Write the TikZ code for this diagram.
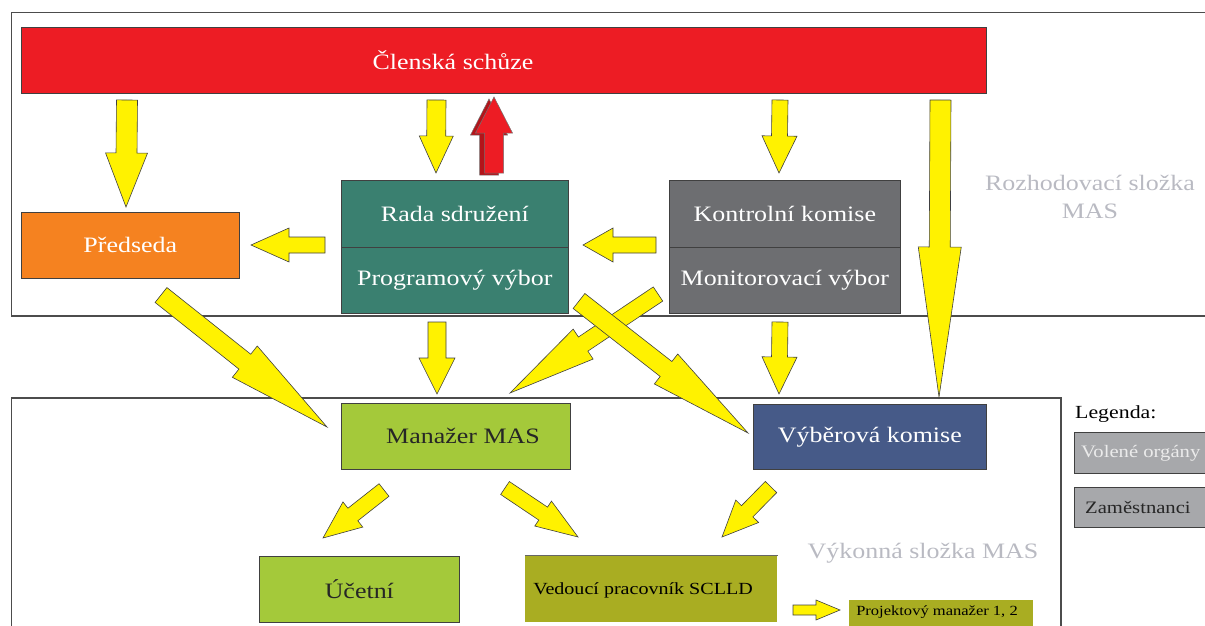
\documentclass[tikz,border=0pt]{standalone}
\usepackage{fontspec}
\setmainfont{Liberation Serif}
\usepackage{graphicx}
\usetikzlibrary{calc}
\definecolor{cred}{HTML}{ED1C24}
\definecolor{cdred}{HTML}{B3141A}
\definecolor{corange}{HTML}{F58220}
\definecolor{cteal}{HTML}{3A8070}
\definecolor{cgray}{HTML}{6D6E71}
\definecolor{cgreen}{HTML}{A4C93A}
\definecolor{cblue}{HTML}{465A88}
\definecolor{colive}{HTML}{A9AD22}
\definecolor{cyellow}{HTML}{FFF200}
\definecolor{clight}{HTML}{B9BAC2}
\definecolor{clegend}{HTML}{A7A8AB}
\newcommand\fsmain{\rmfamily\fontsize{22}{28}\selectfont}
\newcommand\widetxt[1]{\scalebox{1.18}[1]{#1}}
\newcommand\blockarr[6][yarrow]{%
  \coordinate (ba-n) at ($(#3)!#6!(#2)$);
  \path[#1] ($(#2)!#4!90:(#3)$) -- ($(ba-n)!#4!90:(#3)$) -- ($(ba-n)!#5!90:(#3)$) -- (#3)
    -- ($(ba-n)!#5!-90:(#3)$) -- ($(ba-n)!#4!-90:(#3)$) -- ($(#2)!#4!-90:(#3)$) -- cycle;
}
\begin{document}
\begin{tikzpicture}[x=1pt,y=-1pt,
  box/.style={draw=black!75, line width=0.7pt, inner sep=0pt, anchor=north west, font=\fsmain, text=white},
  txt/.style={inner sep=0pt},
  yarrow/.style={fill=cyellow, draw=black!75, line width=0.6pt, line join=miter},
  rarrow/.style={fill=cred, draw=black!55, line width=0.5pt},
  rarrowb/.style={fill=cdred, draw=black!55, line width=0.5pt},
  frame/.style={draw=black!70, line width=1.2pt}]
\useasboundingbox (0,0) rectangle (1205,626);
\clip (0,0) rectangle (1205,626);
% frames
\draw[frame] (11.5,12.5) rectangle (1230,316);
\draw[frame] (11.5,398) rectangle (1061,660);
% boxes
\node[box, fill=cred, minimum width=965, minimum height=66] (clen) at (21,27) {};
\node[txt, font=\fsmain, text=white] (clent) at (453,60) {\widetxt{Členská schůze}};
\node[box, fill=corange, minimum width=218, minimum height=66] (pred) at (21,212) {\widetxt{Předseda}};
\node[box, fill=cteal, minimum width=227, minimum height=67] (rada) at (341,180) {\widetxt{Rada sdružení}};
\node[box, fill=cteal, minimum width=227, minimum height=66] (prog) at (341,247) {\widetxt{Programový výbor}};
\node[box, fill=cgray, minimum width=231, minimum height=67] (kontr) at (669,180) {\widetxt{Kontrolní komise}};
\node[box, fill=cgray, minimum width=231, minimum height=66] (monit) at (669,247) {\widetxt{Monitorovací výbor}};
\node[box, fill=cgreen, minimum width=229, minimum height=66] (man) at (341,403) {};
\node[txt, font=\fsmain, text=black!85] (mant) at (463,436) {\widetxt{Manažer MAS}};
\node[box, fill=cblue, minimum width=233, minimum height=65] (vyb) at (753,404) {\widetxt{Výběrová komise}};
\node[box, fill=cgreen, minimum width=200, minimum height=66, text=black!85] (ucet) at (259,556) {\widetxt{Účetní}};
\node[box, fill=colive, draw=none, minimum width=252, minimum height=67] (ved) at (525,555) {};
\draw[black!60, line width=0.6pt] (ved.north west) -- (ved.north east);
\node[txt, font=\rmfamily\fontsize{17}{20}\selectfont, text=black] (vedt) at (643,590) {\widetxt{Vedoucí pracovník SCLLD}};
\node[box, fill=colive, draw=none, minimum width=184, minimum height=30] (proj) at (849,600) {};
\node[txt, font=\rmfamily\fontsize{14}{17}\selectfont, text=black] (projt) at (937,612) {\widetxt{Projektový manažer 1, 2}};
% section labels
\node[txt, font=\fsmain, text=clight, align=center] (rozh) at (1090,197) {\widetxt{Rozhodovací složka}\\\widetxt{MAS}};
\node[txt, font=\fsmain, text=clight] (vyk) at (923,553) {\widetxt{Výkonná složka MAS}};
% legend
\node[txt, anchor=base west, font=\rmfamily\fontsize{18.5}{22}\selectfont] (leg) at (1075,418) {\widetxt{Legenda:}};
\node[box, fill=clegend, minimum width=160, minimum height=41] (lv) at (1074,432) {};
\node[txt, anchor=west, font=\rmfamily\fontsize{17.5}{20}\selectfont, text=white!92!black] (lvt) at (1081,453) {\widetxt{Volené orgány}};
\node[box, fill=clegend, minimum width=160, minimum height=40] (lz) at (1074,487) {};
\node[txt, anchor=west, font=\rmfamily\fontsize{17.5}{20}\selectfont, text=black!85] (lzt) at (1085,507) {\widetxt{Zaměstnanci}};
% arrow end points
\coordinate (aAs) at (127,100);  \coordinate (aAe) at (126,207);
\coordinate (aBs) at (436.5,100); \coordinate (aBe) at (436,173);
\coordinate (aCs) at (494,173);  \coordinate (aCe) at (494,97);
\coordinate (aCbs) at (489,175); \coordinate (aCbe) at (489,99);
\coordinate (aDs) at (780,100);  \coordinate (aDe) at (779,173);
\coordinate (aEs) at (940.5,100); \coordinate (aEe) at (939,397);
\coordinate (aFs) at (325,245);  \coordinate (aFe) at (251,245);
\coordinate (aGs) at (656,245);  \coordinate (aGe) at (583,245);
\coordinate (aHs) at (161,295);  \coordinate (aHe) at (327,427);
\coordinate (aIs) at (579,301);  \coordinate (aIe) at (748,433);
\coordinate (aJs) at (658,294);  \coordinate (aJe) at (510,393);
\coordinate (aKs) at (437,322);  \coordinate (aKe) at (437,394);
\coordinate (aLs) at (780,322);  \coordinate (aLe) at (779,394);
\coordinate (aMs) at (384,490);  \coordinate (aMe) at (323,538);
\coordinate (aNs) at (505,488);  \coordinate (aNe) at (578,537);
\coordinate (aOs) at (771,487);  \coordinate (aOe) at (722,537);
\coordinate (aPs) at (793,610);  \coordinate (aPe) at (840,610);
% arrows
\blockarr{aAs}{aAe}{10.5pt}{21pt}{54pt}
\blockarr{aBs}{aBe}{9.5pt}{17pt}{37pt}
\blockarr[rarrowb]{aCbs}{aCbe}{9.5pt}{18.5pt}{36pt}
\blockarr[rarrow]{aCs}{aCe}{9.5pt}{18.5pt}{36pt}
\blockarr{aDs}{aDe}{8pt}{17.5pt}{37pt}
\blockarr{aEs}{aEe}{10.5pt}{21.5pt}{150pt}
\blockarr{aFs}{aFe}{8pt}{17pt}{38pt}
\blockarr{aGs}{aGe}{8pt}{17pt}{30pt}
\blockarr{aHs}{aHe}{9.5pt}{20pt}{105pt}
\blockarr{aJs}{aJe}{8.5pt}{18pt}{88pt}
\blockarr{aIs}{aIe}{9.5pt}{19pt}{104pt}
\blockarr{aKs}{aKe}{9pt}{18pt}{36pt}
\blockarr{aLs}{aLe}{8pt}{17.5pt}{37pt}
\blockarr{aMs}{aMe}{8pt}{16pt}{38pt}
\blockarr{aNs}{aNe}{7.8pt}{15pt}{42pt}
\blockarr{aOs}{aOe}{8pt}{16pt}{36pt}
\blockarr{aPs}{aPe}{5pt}{10pt}{24pt}
\end{tikzpicture}
\end{document}
